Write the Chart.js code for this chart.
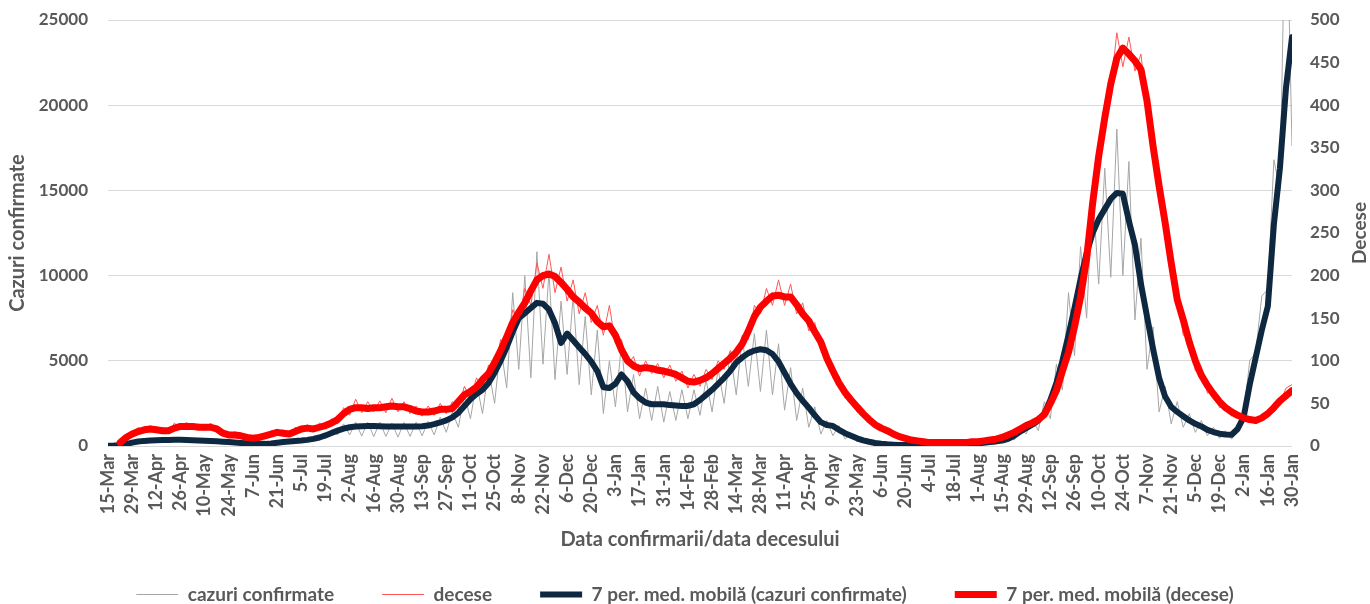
<!DOCTYPE html>
<html>
<head>
<meta charset="utf-8">
<script src="https://cdn.jsdelivr.net/npm/chart.js@4.4.1/dist/chart.umd.min.js"></script>
<style>
html,body{margin:0;padding:0;background:#ffffff;}
#wrap{width:1370px;height:604px;}
</style>
</head>
<body>
<div id="wrap"><canvas id="c" width="1370" height="604"></canvas></div>
<script>
// X tick labels, one every 14 days starting 15-Mar-2020 (day 0) to 30-Jan-2022 (day 686)
const tickLabels = ["15-Mar","29-Mar","12-Apr","26-Apr","10-May","24-May","7-Jun","21-Jun","5-Jul","19-Jul",
  "2-Aug","16-Aug","30-Aug","13-Sep","27-Sep","11-Oct","25-Oct","8-Nov","22-Nov","6-Dec",
  "20-Dec","3-Jan","17-Jan","31-Jan","14-Feb","28-Feb","14-Mar","28-Mar","11-Apr","25-Apr",
  "9-May","23-May","6-Jun","20-Jun","4-Jul","18-Jul","1-Aug","15-Aug","29-Aug","12-Sep",
  "26-Sep","10-Oct","24-Oct","7-Nov","21-Nov","5-Dec","19-Dec","2-Jan","16-Jan","30-Jan"];
const tickStepDays = 14;
const lastDay = 686;
// values sampled every 3.5 days (day = index * 3.5)
const stepDays = 3.5;

const casesRaw = [
  5,30,40,180,190,300,260,380,290,420,
  300,410,300,400,280,380,250,350,200,300,
  170,260,140,190,110,170,110,190,150,290,
  200,340,250,440,300,620,450,950,650,1300,
  650,1400,580,1400,550,1400,560,1350,520,1380,
  560,1400,600,1450,650,1700,800,2000,1100,3000,
  1600,3700,1900,4500,2500,5900,3400,9000,4500,10000,
  4000,11400,4800,10200,3900,8500,4200,8800,3600,7600,
  3000,6800,1900,5000,2300,6000,2000,4200,1600,3400,
  1500,3500,1400,3200,1500,3300,1600,3300,1800,3900,
  2000,4500,2500,5500,3000,6400,3500,6600,3200,6800,
  3000,6000,2100,4600,1500,3400,1100,2300,700,1500,
  600,1200,400,750,250,420,150,230,80,130,
  50,90,30,60,25,55,25,60,30,80,
  45,120,70,170,100,250,150,350,200,560,
  350,1100,700,1600,900,2600,1600,4800,3300,9000,
  5300,11700,7500,15000,9500,16300,9900,18600,10000,16700,
  7400,12200,4500,7000,2000,3500,1300,2600,1100,1900,
  800,1500,600,1100,450,900,400,1100,1800,5000,
  5500,8800,9200,16800,15000,34000,17600
];

const deathsRaw = [
  null,null,2,14,12,22,16,24,17,22,
  15,27,20,28,19,26,18,27,17,18,
  10,17,9,13,7,13,9,18,13,19,
  11,22,16,25,17,27,20,32,26,45,
  36,55,39,52,40,53,39,56,40,52,
  38,47,35,47,36,50,38,52,45,70,
  56,80,68,95,88,125,115,160,145,185,
  165,215,185,225,180,210,170,195,155,180,
  145,165,130,165,120,125,95,105,82,100,
  85,97,80,95,76,88,68,84,70,90,
  78,100,90,112,100,130,125,165,155,185,
  165,195,165,190,155,168,135,145,112,110,
  80,82,56,60,40,42,27,28,18,20,
  12,13,8,9,5,6,3,5,3,5,
  3,5,4,6,4,7,6,10,9,15,
  14,23,22,30,28,42,46,75,82,125,
  135,195,215,300,330,400,420,485,445,480,
  440,460,395,365,285,275,200,180,130,128,
  88,90,62,66,45,49,35,40,30,34,
  27,37,34,50,50,68,72
];

const casesMA = [
  15,25,45,110,200,260,300,320,340,350,
  355,360,360,350,340,330,315,300,280,255,
  230,205,180,160,145,130,125,150,190,230,
  260,290,320,360,420,500,620,760,900,1020,
  1100,1140,1160,1170,1170,1160,1150,1140,1140,1140,
  1150,1150,1160,1200,1280,1380,1500,1680,1950,2350,
  2750,3050,3300,3700,4300,5000,5800,6700,7500,7800,
  8100,8400,8350,8000,7200,6050,6600,6200,5800,5400,
  4950,4400,3450,3400,3650,4200,3800,3150,2800,2550,
  2450,2450,2450,2400,2380,2350,2350,2450,2700,3000,
  3300,3650,4000,4400,4900,5200,5450,5600,5680,5620,
  5400,4950,4300,3650,3100,2650,2250,1800,1400,1230,
  1180,950,750,600,450,330,250,180,130,100,
  80,65,55,45,40,38,40,45,50,60,
  75,90,110,130,160,190,230,270,320,420,
  600,850,1050,1250,1500,1900,2700,3700,5000,6500,
  8100,9800,11300,12500,13300,13900,14500,14850,14800,13200,
  11800,9500,7600,5700,4000,2900,2300,2000,1750,1500,
  1300,1150,950,820,720,680,660,1000,1700,3600,
  5200,6800,8200,13000,16300,21000,24000
];

const deathsMA = [
  null,null,4,10,14,17,19,20,19,18,
  18,21,23,23,23,22,22,22,20,15,
  13,13,12,10,9,10,12,14,16,15,
  14,17,20,21,20,22,24,27,31,38,
  43,45,45,44,45,45,46,47,46,46,
  44,41,40,40,41,43,43,44,52,60,
  64,69,78,85,98,112,128,145,157,168,
  182,195,200,202,199,192,184,175,169,162,
  156,146,140,141,130,113,100,94,91,92,
  91,89,88,86,84,80,76,75,77,80,
  85,91,97,103,110,120,135,152,163,170,
  176,177,175,175,166,155,147,134,122,103,
  88,74,63,54,46,38,31,25,21,18,
  14,11,9,7,6,5,4,4,4,4,
  4,4,4,5,5,6,7,8,10,13,
  16,20,24,27,31,37,50,65,88,110,
  140,175,220,285,340,385,425,455,467,460,
  452,442,405,352,305,262,215,172,148,122,
  100,83,71,61,52,45,40,36,33,31,
  30,33,38,45,53,59,65
];

const TEXT = '#595959';
const FONT = 'Lato, "Open Sans", "DejaVu Sans", sans-serif';
Chart.defaults.font.family = FONT;
Chart.defaults.font.weight = 'bold';
Chart.defaults.color = TEXT;

const pts = arr => arr.map((v, i) => ({x: i * stepDays, y: v}));

const rightTitle = {
  id: 'rightTitle',
  afterDraw(chart) {
    const ctx = chart.ctx;
    const a = chart.chartArea;
    ctx.save();
    ctx.font = 'bold 19px ' + FONT;
    ctx.fillStyle = TEXT;
    ctx.translate(1360, (a.top + a.bottom) / 2);
    ctx.rotate(-Math.PI / 2);
    ctx.textAlign = 'center';
    ctx.textBaseline = 'middle';
    ctx.fillText('Decese', 0, 0);
    ctx.restore();
  }
};

new Chart(document.getElementById('c'), {
  type: 'line',
  data: {
    datasets: [
      {label: 'cazuri confirmate', data: pts(casesRaw), borderColor: '#A6A6A6', backgroundColor: '#A6A6A6',
       borderWidth: 1, yAxisID: 'y', order: 4},
      {label: 'decese', data: pts(deathsRaw), borderColor: '#FF5757', backgroundColor: '#FF5757',
       borderWidth: 1, yAxisID: 'y1', order: 3},
      {label: '7 per. med. mobilă (cazuri confirmate)', data: pts(casesMA), borderColor: '#0E2841', backgroundColor: '#0E2841',
       borderWidth: 6, yAxisID: 'y', order: 2, borderCapStyle: 'round', borderJoinStyle: 'round'},
      {label: '7 per. med. mobilă (decese)', data: pts(deathsMA), borderColor: '#FF0000', backgroundColor: '#FF0000',
       borderWidth: 7, yAxisID: 'y1', order: 1, borderCapStyle: 'round', borderJoinStyle: 'round'}
    ]
  },
  options: {
    responsive: false,
    animation: false,
    devicePixelRatio: 1,
    events: [],
    layout: {padding: {top: 20, left: 0, right: 0, bottom: -10}},
    elements: {
      point: {radius: 0, hoverRadius: 0, pointStyle: 'line'},
      line: {tension: 0, fill: false}
    },
    scales: {
      x: {
        type: 'linear', min: 0, max: lastDay,
        afterFit: s => { s.height = 91; },
        grid: {display: false, drawTicks: false},
        border: {display: false},
        ticks: {
          stepSize: tickStepDays, autoSkip: false, minRotation: 90, maxRotation: 90, padding: 8,
          font: {size: 18, weight: 'bold'}, color: TEXT,
          callback: v => tickLabels[Math.round(v / tickStepDays)]
        },
        title: {display: true, text: 'Data confirmarii/data decesului', color: TEXT,
                font: {size: 20, weight: 'bold'}, padding: {top: 0, bottom: -15}}
      },
      y: {
        position: 'left', min: 0, max: 25000,
        afterFit: s => { s.width = 108; },
        ticks: {stepSize: 5000, padding: 3, font: {size: 17, weight: 'bold'}, color: TEXT,
                callback: v => String(v)},
        grid: {color: '#D9D9D9', lineWidth: 1, drawTicks: true, tickLength: 17, tickColor: 'rgba(0,0,0,0)'},
        border: {display: false},
        title: {display: true, text: 'Cazuri confirmate', color: TEXT,
                font: {size: 20, weight: 'bold'}, padding: {top: 6, bottom: 0}}
      },
      y1: {
        position: 'right', min: 0, max: 500,
        afterFit: s => { s.width = 78; },
        ticks: {stepSize: 50, padding: 3, font: {size: 17, weight: 'bold'}, color: TEXT,
                callback: v => String(v)},
        grid: {display: true, drawOnChartArea: false, drawTicks: true, tickLength: 15, tickColor: 'rgba(0,0,0,0)'},
        border: {display: false}
      }
    },
    plugins: {
      legend: {
        position: 'bottom',
        labels: {
          usePointStyle: true, pointStyleWidth: 42, padding: 48,
          font: {size: 19, weight: 'bold'}, color: TEXT,
          sort: (a, b) => a.datasetIndex - b.datasetIndex
        }
      },
      tooltip: {enabled: false}
    }
  },
  plugins: [rightTitle]
});
</script>
</body>
</html>
